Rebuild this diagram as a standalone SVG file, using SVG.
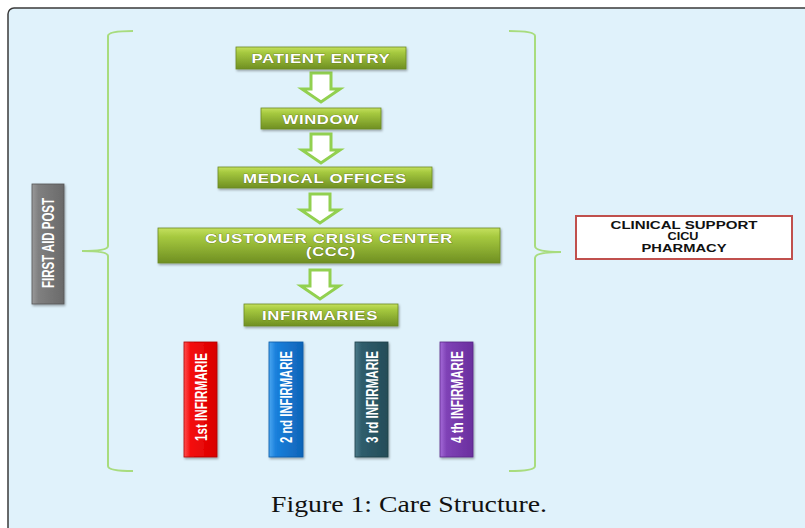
<svg xmlns="http://www.w3.org/2000/svg" width="805" height="528" viewBox="0 0 805 528">
<defs>
<linearGradient id="gGreen" x1="0" y1="0" x2="0" y2="1">
<stop offset="0" stop-color="#c4e05e"/>
<stop offset="0.25" stop-color="#a6c93f"/>
<stop offset="1" stop-color="#6f8f22"/>
</linearGradient>
<linearGradient id="gGray" x1="0" y1="0" x2="1" y2="0">
<stop offset="0" stop-color="#9a9a9a"/>
<stop offset="0.2" stop-color="#808080"/>
<stop offset="1" stop-color="#6a6a6a"/>
</linearGradient>
<linearGradient id="gRed" x1="0" y1="0" x2="1" y2="0">
<stop offset="0" stop-color="#ff5050"/>
<stop offset="0.2" stop-color="#f50d0d"/>
<stop offset="1" stop-color="#d80000"/>
</linearGradient>
<linearGradient id="gBlue" x1="0" y1="0" x2="1" y2="0">
<stop offset="0" stop-color="#4aa6f0"/>
<stop offset="0.2" stop-color="#1a80dc"/>
<stop offset="1" stop-color="#0f64b8"/>
</linearGradient>
<linearGradient id="gTeal" x1="0" y1="0" x2="1" y2="0">
<stop offset="0" stop-color="#4a7a8a"/>
<stop offset="0.2" stop-color="#2f5d6c"/>
<stop offset="1" stop-color="#244c58"/>
</linearGradient>
<linearGradient id="gPurple" x1="0" y1="0" x2="1" y2="0">
<stop offset="0" stop-color="#a46ad8"/>
<stop offset="0.2" stop-color="#7f42b6"/>
<stop offset="1" stop-color="#6a2f9e"/>
</linearGradient>
<filter id="sh" x="-20%" y="-20%" width="140%" height="160%">
<feDropShadow dx="1" dy="1.5" stdDeviation="1" flood-color="#000" flood-opacity="0.35"/>
</filter>
<path id="arrow" d="M-10,0 H10 V16 H19 L0,29 L-19,16 H-10 Z"/>
</defs>
<style>
.gbox{fill:url(#gGreen);stroke:#6b8a22;stroke-width:0.8;filter:url(#sh)}
.gtxt{font-family:"Liberation Sans",Arial,sans-serif;font-weight:bold;font-size:13px;letter-spacing:0.5px;fill:#fff;text-anchor:middle;paint-order:stroke;stroke:#5a6e20;stroke-width:0.6}
.arr{fill:#fff;stroke:#92d050;stroke-width:3;stroke-linejoin:miter}
.brace{fill:none;stroke:#a8dc7e;stroke-width:2}
.vbox{filter:url(#sh)}
.vtxt{font-family:"Liberation Sans",Arial,sans-serif;font-weight:bold;font-size:16.5px;fill:#fff;text-anchor:middle}
.cs{font-family:"Liberation Sans",Arial,sans-serif;font-weight:bold;font-size:11px;fill:#111;text-anchor:middle}
.cap{font-family:"Liberation Serif","DejaVu Serif",serif;font-size:24px;fill:#111;text-anchor:middle}
</style>
<rect x="0" y="0" width="805" height="528" fill="#ffffff"/>
<rect x="8" y="8" width="810" height="540" rx="6" fill="#e0f2fb" stroke="#3a3a3a" stroke-width="1.5"/>

<g id="connectors">
<path class="brace" d="M133,31 Q108,31 108,36 V246 Q108,251 82,251 Q108,251 108,256 V466 Q108,471 133,471"/>
<path class="brace" d="M509,31 Q535,31 535,36 V246 Q535,252 561,252 Q535,252 535,258 V466 Q535,471 509,471"/>
<use href="#arrow" class="arr" x="321" y="73"/>
<use href="#arrow" class="arr" x="321" y="134"/>
<use href="#arrow" class="arr" x="320" y="194"/>
<use href="#arrow" class="arr" x="320" y="270"/>
</g>

<g id="patient-entry">
<rect class="gbox" x="236" y="47" width="170" height="22"/>
<text class="gtxt" x="321" y="62.5" textLength="139" lengthAdjust="spacingAndGlyphs">PATIENT ENTRY</text>
</g>
<g id="window">
<rect class="gbox" x="261" y="108" width="120" height="21"/>
<text class="gtxt" x="321" y="123.5" textLength="77" lengthAdjust="spacingAndGlyphs">WINDOW</text>
</g>
<g id="medical-offices">
<rect class="gbox" x="218" y="167" width="214" height="21"/>
<text class="gtxt" x="325" y="182.5" textLength="164" lengthAdjust="spacingAndGlyphs">MEDICAL OFFICES</text>
</g>
<g id="ccc">
<rect class="gbox" x="158" y="228" width="342" height="35"/>
<text class="gtxt" x="329" y="242.5" textLength="248" lengthAdjust="spacingAndGlyphs">CUSTOMER CRISIS CENTER</text>
<text class="gtxt" x="331" y="256" textLength="50" lengthAdjust="spacingAndGlyphs">(CCC)</text>
</g>
<g id="infirmaries">
<rect class="gbox" x="244" y="304" width="154" height="22"/>
<text class="gtxt" x="320" y="319.5" textLength="116" lengthAdjust="spacingAndGlyphs">INFIRMARIES</text>
</g>

<g id="first-aid-post">
<rect class="vbox" x="32" y="184" width="32" height="120" fill="url(#gGray)" stroke="#555" stroke-width="0.8"/>
<text class="vtxt" transform="translate(54,243) rotate(-90)" textLength="90" lengthAdjust="spacingAndGlyphs">FIRST AID POST</text>
</g>

<g id="clinical-support">
<rect x="576" y="216" width="216" height="43" fill="#fff" stroke="#c0504d" stroke-width="2"/>
<text class="cs" x="684" y="229" textLength="147" lengthAdjust="spacingAndGlyphs">CLINICAL SUPPORT</text>
<text class="cs" x="683" y="240" textLength="31" lengthAdjust="spacingAndGlyphs">CICU</text>
<text class="cs" x="684" y="252" textLength="85" lengthAdjust="spacingAndGlyphs">PHARMACY</text>
</g>

<g id="inf-1">
<rect class="vbox" x="184" y="342" width="33" height="115" fill="url(#gRed)" stroke="#b00000" stroke-width="0.8"/>
<text class="vtxt" transform="translate(206.5,397) rotate(-90)" textLength="88" lengthAdjust="spacingAndGlyphs">1st INFIRMARIE</text>
</g>
<g id="inf-2">
<rect class="vbox" x="269" y="342" width="34" height="115" fill="url(#gBlue)" stroke="#0d5aa8" stroke-width="0.8"/>
<text class="vtxt" transform="translate(291.5,397) rotate(-90)" textLength="92" lengthAdjust="spacingAndGlyphs">2 nd INFIRMARIE</text>
</g>
<g id="inf-3">
<rect class="vbox" x="355" y="342" width="33" height="115" fill="url(#gTeal)" stroke="#1e3f48" stroke-width="0.8"/>
<text class="vtxt" transform="translate(377.5,397) rotate(-90)" textLength="92" lengthAdjust="spacingAndGlyphs">3 rd INFIRMARIE</text>
</g>
<g id="inf-4">
<rect class="vbox" x="440" y="342" width="33" height="115" fill="url(#gPurple)" stroke="#5a2788" stroke-width="0.8"/>
<text class="vtxt" transform="translate(462.5,397) rotate(-90)" textLength="92" lengthAdjust="spacingAndGlyphs">4 th INFIRMARIE</text>
</g>

<text class="cap" x="409" y="512" textLength="276" lengthAdjust="spacingAndGlyphs">Figure 1: Care Structure.</text>
</svg>
